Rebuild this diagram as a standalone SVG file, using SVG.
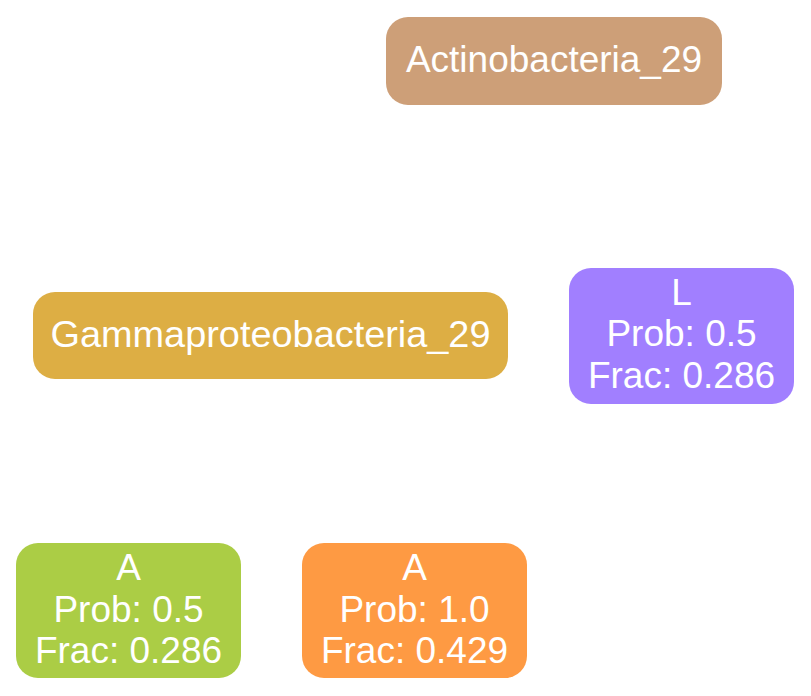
<svg xmlns="http://www.w3.org/2000/svg" width="811" height="696" viewBox="0 0 811 696">
<style>
.n text{font-family:"Liberation Sans",Arial,Helvetica,sans-serif;font-size:37px;fill:#ffffff;text-anchor:middle}
</style>
<rect width="811" height="696" fill="#ffffff"/>
<g id="edges"></g>
<g id="actino" class="n">
<rect x="386" y="17" width="336" height="88" rx="22" fill="#cd9f78"/>
<text x="554" y="72">Actinobacteria_29</text>
</g>
<g id="gamma" class="n">
<rect x="33" y="292" width="475" height="87" rx="22" fill="#ddae44"/>
<text x="270.5" y="347" textLength="440" lengthAdjust="spacingAndGlyphs">Gammaproteobacteria_29</text>
</g>
<g id="nodeL" class="n">
<rect x="569" y="268" width="225" height="136" rx="22" fill="#a17fff"/>
<text x="681.5" y="305">L</text>
<text x="681.5" y="346">Prob: 0.5</text>
<text x="681.5" y="388">Frac: 0.286</text>
</g>
<g id="nodeA1" class="n">
<rect x="16" y="543" width="225" height="135" rx="22" fill="#abcd45"/>
<text x="128.5" y="580">A</text>
<text x="128.5" y="622">Prob: 0.5</text>
<text x="128.5" y="663">Frac: 0.286</text>
</g>
<g id="nodeA2" class="n">
<rect x="302" y="543" width="225" height="135" rx="22" fill="#fe9a43"/>
<text x="414.5" y="580">A</text>
<text x="414.5" y="622">Prob: 1.0</text>
<text x="414.5" y="663">Frac: 0.429</text>
</g>
</svg>
